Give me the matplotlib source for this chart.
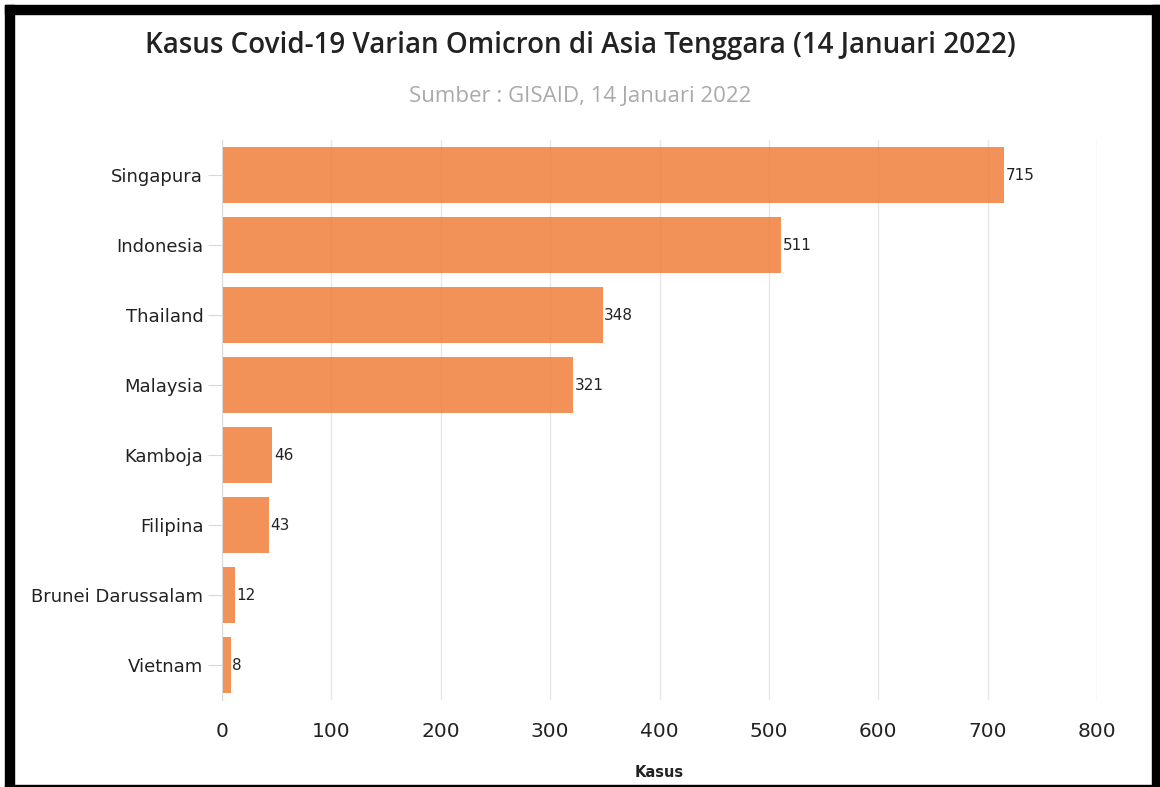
import matplotlib
matplotlib.use('Agg')
import matplotlib.pyplot as plt
from matplotlib.patches import Rectangle

plt.rcParams['font.family'] = ['DejaVu Sans']

negara = ['Singapura', 'Indonesia', 'Thailand', 'Malaysia', 'Kamboja',
          'Filipina', 'Brunei Darussalam', 'Vietnam']
kasus = [715, 511, 348, 321, 46, 43, 12, 8]
x_ticks = [0, 100, 200, 300, 400, 500, 600, 700, 800]

W, H = 1160, 787
fig = plt.figure(figsize=(W / 100, H / 100), dpi=100)
fig.patch.set_facecolor('white')

ax = fig.add_axes([222 / W, 1 - 700 / H, 875 / W, 560 / H])

y = list(range(len(negara)))
ax.barh(y, kasus, height=0.8, color='#f07f3c', alpha=0.85, zorder=2)
for yi, v in zip(y, kasus):
    ax.text(v + 1.5, yi, str(v), va='center', ha='left', fontsize=11,
            color='#222222', zorder=3)

ax.set_ylim(len(negara) - 0.5, -0.5)
ax.set_xlim(0, 800)
ax.set_yticks(y)
ax.set_yticklabels(negara, fontsize=13, color='#222222')
ax.set_xticks(x_ticks)
ax.set_xticklabels([str(t) for t in x_ticks], fontsize=14.5, color='#222222')

ax.grid(axis='x', color='#e6e6e6', linewidth=1, zorder=0)
ax.set_axisbelow(True)
for s in ['top', 'right', 'bottom']:
    ax.spines[s].set_visible(False)
ax.spines['left'].set_color('#d9d9d9')
ax.tick_params(axis='y', length=10, color='#d9d9d9', pad=3.5)
ax.tick_params(axis='x', length=0, pad=16)

ax.set_xlabel('Kasus', fontsize=10.5, fontweight='bold', color='#222222', labelpad=17)

fig.text(0.5, 1 - 45 / H, 'Kasus Covid-19 Varian Omicron di Asia Tenggara (14 Januari 2022)',
         ha='center', va='center', fontsize=20, fontweight='semibold',
         family='Open Sans', color='#222222')
fig.text(0.5, 1 - 96 / H, 'Sumber : GISAID, 14 Januari 2022',
         ha='center', va='center', fontsize=16, family='Open Sans', color='#aaaaaa')

# black frame around the chart
for (x0, y0, w, h) in [(5, 5, 9, 782), (5, 5, 1155, 9), (1152, 5, 8, 782), (5, 785, 1155, 2)]:
    fig.patches.append(Rectangle((x0 / W, 1 - (y0 + h) / H), w / W, h / H,
                                 transform=fig.transFigure, color='black', zorder=10))

fig.savefig('out.png', dpi=100)
